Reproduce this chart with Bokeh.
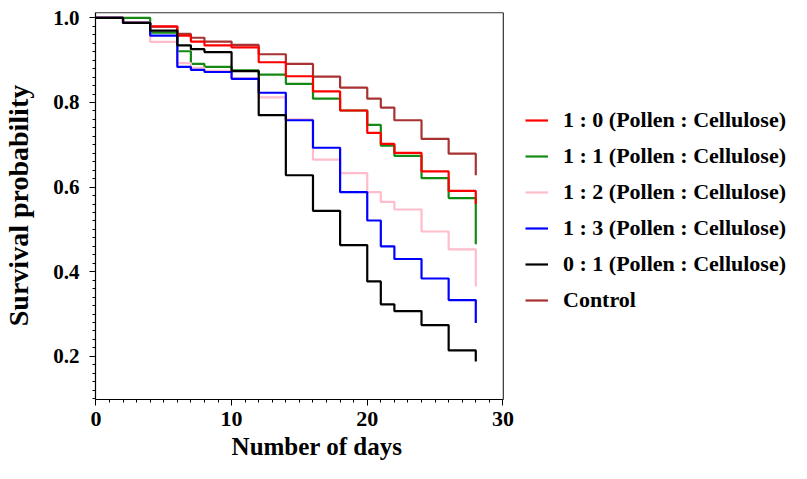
from bokeh.plotting import figure
from bokeh.models import Range1d, FixedTicker, Legend, LegendItem, PrintfTickFormatter, Title
from bokeh.embed import file_html
from bokeh.resources import INLINE
import numpy as np

# Kaplan-Meier style survival steps (value holds from each day until the next)
days = [0, 2, 4, 6, 7, 8, 10, 12, 14, 16, 18, 20, 21, 22, 24, 26, 28]

surv_1_0 = [1.0, 0.988, 0.980, 0.958, 0.944, 0.935, 0.930, 0.895, 0.862, 0.826,
            0.781, 0.728, 0.702, 0.681, 0.637, 0.591, 0.560]
surv_1_1 = [1.0, 1.0, 0.965, 0.921, 0.891, 0.884, 0.876, 0.866, 0.844, 0.809,
            0.781, 0.747, 0.698, 0.674, 0.621, 0.574, 0.465]
surv_1_2 = [1.0, 0.988, 0.943, 0.893, 0.882, 0.875, 0.857, 0.812, 0.760, 0.665,
            0.633, 0.588, 0.565, 0.547, 0.495, 0.453, 0.365]
surv_1_3 = [1.0, 0.988, 0.958, 0.884, 0.877, 0.872, 0.856, 0.823, 0.758, 0.693,
            0.588, 0.521, 0.460, 0.430, 0.384, 0.333, 0.279]
surv_0_1 = [1.0, 0.988, 0.970, 0.935, 0.926, 0.919, 0.874, 0.770, 0.628, 0.544,
            0.463, 0.377, 0.323, 0.307, 0.274, 0.214, 0.188]
surv_control = [1.0, 0.988, 0.979, 0.962, 0.953, 0.944, 0.936, 0.914, 0.891, 0.861,
                0.835, 0.809, 0.788, 0.758, 0.714, 0.679, 0.628]

series_labels = ["1 : 0 (Pollen : Cellulose)", "1 : 1 (Pollen : Cellulose)",
                 "1 : 2 (Pollen : Cellulose)", "1 : 3 (Pollen : Cellulose)",
                 "0 : 1 (Pollen : Cellulose)", "Control"]
series_values = [surv_1_0, surv_1_1, surv_1_2, surv_1_3, surv_0_1, surv_control]
series_colors = ["#ff0000", "#148a14", "#ffbccb", "#0000ff", "#000000", "#a83232"]

x_major = [0, 10, 20, 30]
y_major = [0.2, 0.4, 0.6, 0.8, 1.0]

FONT = "Liberation Serif"

# layout: the plotting box occupies the left part; the legend sits to its right
W, H = 790, 462
BL, BR, BT, BB = 93, 0, 11, 63
box_px = 409                      # width of the visible plot box
x_start, box_right = -0.03, 30.03
y_start, box_top, y_end = 0.098, 1.012, 1.015
frame_w = W - BL - BR
x_end = x_start + (box_right - x_start) * frame_w / box_px

p = figure(width=W, height=H, output_backend="svg", toolbar_location=None,
           x_range=Range1d(x_start, x_end), y_range=Range1d(y_start, y_end),
           min_border_left=BL, min_border_right=BR, min_border_top=BT,
           min_border_bottom=BB)

p.xgrid.visible = False
p.ygrid.visible = False
p.outline_line_color = None
p.background_fill_color = "white"
p.border_fill_color = "white"

# box top and right edges
p.segment(x0=[x_start, box_right], y0=[box_top, y_start],
          x1=[box_right, box_right], y1=[box_top, box_top],
          line_color="#333333", line_width=1.2)

# draw order: control first so others sit on top
order = [5, 1, 0, 2, 3, 4]
renderers = {}
for i in order:
    r = p.step(days, series_values[i], mode="after", line_color=series_colors[i],
               line_width=2.2)
    renderers[i] = r

# axes
xa = p.xaxis[0]
xa.bounds = (x_start, box_right)
xa.ticker = FixedTicker(ticks=x_major, minor_ticks=list(np.arange(0, 31, 1)))
xa.formatter = PrintfTickFormatter(format="%d")
ya = p.yaxis[0]
ya.bounds = (y_start, box_top)
ya.ticker = FixedTicker(ticks=y_major, minor_ticks=list(np.round(np.arange(0.1, 1.001, 0.02), 3)))
ya.formatter = PrintfTickFormatter(format="%.1f")
ya.axis_label = "Survival probability"

for ax in (xa, ya):
    ax.axis_line_color = "black"
    ax.axis_line_width = 1.2
    ax.major_tick_line_color = "black"
    ax.minor_tick_line_color = "black"
    ax.major_tick_in = 0
    ax.minor_tick_in = 0
    ax.major_tick_out = 6
    ax.minor_tick_out = 3
    ax.major_label_text_font = FONT
    ax.major_label_text_font_style = "bold"
    ax.major_label_text_color = "black"
    ax.axis_label_text_font = FONT
    ax.axis_label_text_font_style = "bold"
    ax.axis_label_text_color = "black"

xa.major_label_text_font_size = "22px"
xa.major_label_standoff = 6

ya.major_label_text_font_size = "21px"
ya.major_label_standoff = 10
ya.axis_label_text_font_size = "28px"
ya.axis_label_standoff = 16

# x-axis title placed under the visible box (slightly right of centre, as in the source)
title_px = 25
title_width = 7.233 * title_px    # approx. advance width of the bold serif text
xtitle = Title(text="Number of days", align="left",
               offset=box_px / 2 - title_width / 2 + 22,
               text_font=FONT, text_font_style="bold", text_font_size=f"{title_px}px",
               text_color="black", standoff=4)
p.add_layout(xtitle, "below")

items = [LegendItem(label=series_labels[i], renderers=[renderers[i]]) for i in range(6)]
legend = Legend(items=items, location=(430, 86), padding=0, margin=0, spacing=10,
                label_height=26, glyph_height=26, glyph_width=23, label_standoff=15,
                border_line_color=None, background_fill_alpha=0,
                label_text_font=FONT, label_text_font_style="bold",
                label_text_font_size="22px", label_text_color="black")
p.add_layout(legend)

open("out.html", "w").write(file_html(p, INLINE))
